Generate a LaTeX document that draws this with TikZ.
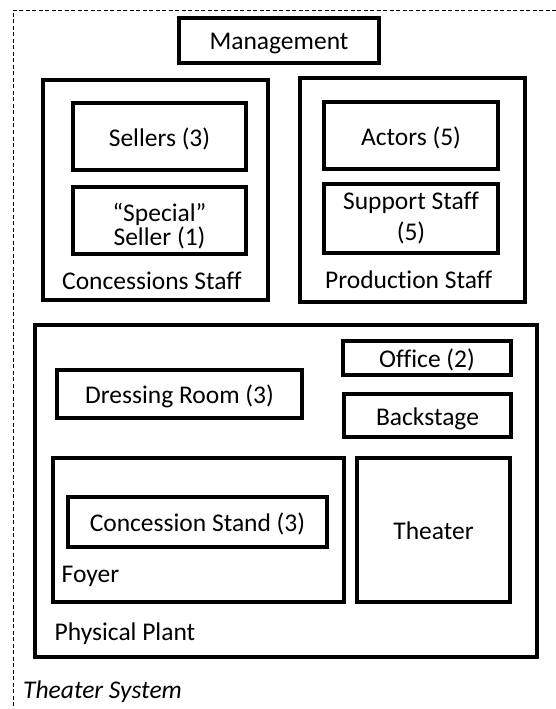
\documentclass[tikz,border=0pt]{standalone}
\usepackage{fontspec}
\setmainfont[Ligatures={NoCommon}]{Carlito}
\begin{document}
\begin{tikzpicture}[x=1pt,y=1pt,
  boxframe/.style={draw, line width=3.1pt, inner sep=0pt},
  box/.style={boxframe, text height=19pt, text depth=0pt,
              font=\fontsize{25.5}{29}\selectfont},
  twoline/.style={boxframe, align=center},
  lbl/.style={inner sep=0pt, anchor=west, font=\fontsize{25.5}{29}\selectfont}]
\useasboundingbox (0,0) rectangle (556,-709);
% system boundary (runs past the page on the right and bottom)
\coordinate (sysTR) at (556,-10);
\coordinate (sysTL) at (13,-10);
\coordinate (sysBL) at (13,-709);
\draw[line width=0.8pt, dash pattern=on 4pt off 2.5pt] (sysTR) -- (sysTL) -- (sysBL);
\node[lbl, font=\fontsize{25.5}{29}\selectfont\itshape] (sys) at (23,-692) {Theater System};

% management
\node[box, minimum width=200, minimum height=45] (mgmt) at (279,-40.5) {Management};

% concessions staff
\node[boxframe, minimum width=225, minimum height=220] (conc) at (155.5,-190) {};
\node[box, minimum width=173, minimum height=67] (sell) at (159.5,-136.5) {Sellers (3)};
\node[twoline, minimum width=173, minimum height=67, font=\fontsize{25.5}{22}\selectfont] (spec) at (159.5,-220.5) {\rule{0pt}{29pt}“Special”\\Seller (1)};
\node[lbl] (concl) at (62,-280.5) {Concessions Staff};

% production staff
\node[boxframe, minimum width=225, minimum height=224] (prod) at (412.5,-190) {};
\node[box, minimum width=174, minimum height=67] (act) at (411,-135.5) {Actors (5)};
\node[twoline, minimum width=174, minimum height=69, font=\fontsize{25.5}{31}\selectfont] (supp) at (411,-218.5) {Support Staff\\(5)};
\node[lbl] (prodl) at (325,-279.5) {Production Staff};

% physical plant
\node[boxframe, minimum width=502, minimum height=332] (plant) at (286,-491) {};
\node[box, minimum width=168, minimum height=34] (off) at (427,-358) {Office (2)};
\node[box, minimum width=167, minimum height=43] (back) at (427.5,-415.5) {Backstage};
\node[box, minimum width=245, minimum height=48] (dress) at (179.5,-394) {Dressing Room (3)};
\node[boxframe, minimum width=291, minimum height=144] (foyer) at (198.5,-530) {};
\node[box, minimum width=259, minimum height=50] (stand) at (197.5,-522) {Concession Stand (3)};
\node[lbl] (foyerl) at (61.5,-576.5) {Foyer};
\node[box, minimum width=153, minimum height=144] (theat) at (433.5,-530) {Theater};
\node[lbl] (plantl) at (54.5,-633.5) {Physical Plant};
\end{tikzpicture}
\end{document}
